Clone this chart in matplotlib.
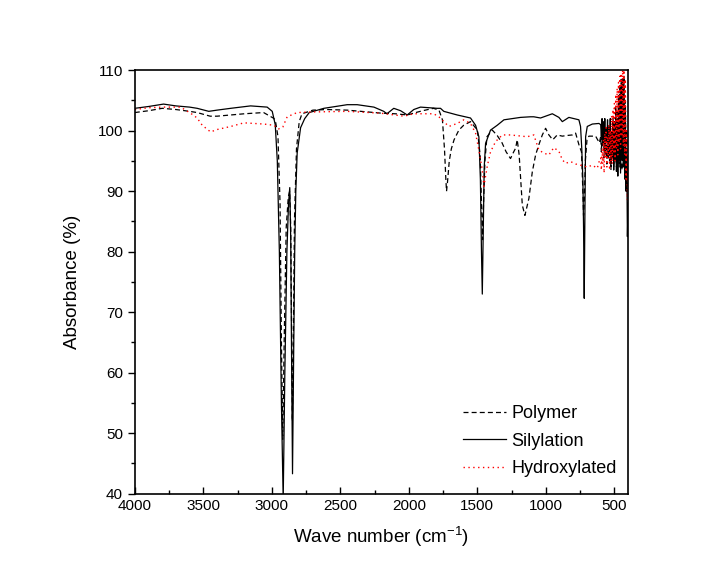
import numpy as np
import matplotlib
matplotlib.use('Agg')
import matplotlib.pyplot as plt

plt.rcParams['font.family'] = ['Liberation Sans', 'DejaVu Sans']
plt.rcParams['mathtext.fontset'] = 'custom'
plt.rcParams['mathtext.rm'] = 'Liberation Sans'

# Polymer (dashed)
wn_poly = [4000, 3900, 3800, 3700, 3600, 3545, 3450, 3400, 3300, 3200, 3060, 2990, 2975, 2955,
           2940, 2930, 2920, 2910, 2895, 2880, 2870, 2862, 2855, 2850, 2843, 2835, 2820, 2800,
           2780, 2700, 2600, 2450, 2300, 2200, 2100, 2010, 1950, 1900, 1820, 1780, 1755, 1740,
           1730, 1725, 1718, 1705, 1690, 1670, 1635, 1600, 1550, 1500, 1480, 1470, 1462, 1455,
           1445, 1430, 1391, 1355, 1320, 1290, 1258, 1235, 1221, 1209, 1195, 1172, 1153, 1124,
           1099, 1075, 1051, 1026, 1002, 978, 950, 917, 880, 850, 807, 783, 759, 740, 730, 725,
           720, 712, 700, 686, 637, 610,
           600, 595, 590, 585, 580, 575, 570, 565, 560, 555, 550, 545, 540, 535, 530, 525, 520,
           515, 510, 505, 500, 495, 490, 485, 480, 475, 470, 465, 460, 455, 450, 445, 440, 435,
           430, 425, 420, 415, 410, 405, 400]
ab_poly = [103.0, 103.3, 103.7, 103.5, 103.2, 103.0, 102.4, 102.4, 102.6, 102.8, 103.0, 102.1, 101.8, 99.0,
           88.0, 65.0, 49.0, 65.0, 84.0, 89.0, 90.0, 84.0, 65.0, 52.0, 65.0, 85.0, 97.0, 101.5,
           102.8, 103.4, 103.5, 103.4, 103.1, 102.9, 102.8, 102.6, 103.0, 103.3, 103.7, 103.4, 101.8, 97.0,
           92.0, 90.0, 91.5, 95.0, 97.0, 98.5, 100.1, 100.9, 101.5, 100.1, 96.0, 88.0, 82.0, 88.0,
           95.0, 99.0, 100.1, 99.2, 98.0, 96.5, 95.4, 96.5, 97.1, 98.5, 96.0, 87.7, 86.0, 88.8,
           93.2, 96.0, 97.7, 99.3, 100.4, 99.3, 98.5, 99.3, 99.1, 99.2, 99.3, 99.6, 97.7, 96.5, 90.0, 86.0,
           88.0, 95.0, 98.5, 99.1, 99.1, 98.0,
           99.0, 96.5, 100.0, 97.5, 99.5, 95.5, 98.5, 96.0, 100.5, 94.5, 99.0, 96.5, 101.0, 95.0, 98.0, 93.5, 100.0,
           95.5, 102.0, 94.0, 101.5, 96.0, 104.0, 93.0, 103.0, 95.5, 106.0, 94.0, 107.5, 96.0, 108.5, 93.5, 108.0, 95.0,
           109.0, 92.5, 105.0, 94.0, 100.0, 90.0, 93.0]

# Silylation (solid)
wn_sil = [4000, 3900, 3790, 3700, 3600, 3545, 3460, 3400, 3300, 3155, 3034, 2997, 2975, 2960,
          2945, 2930, 2917, 2905, 2890, 2878, 2869, 2862, 2855, 2849, 2842, 2833, 2825, 2815,
          2790, 2760, 2727, 2620, 2450, 2377, 2255, 2183, 2160, 2110, 2060, 2012, 1964, 1915,
          1793, 1769, 1745, 1647, 1550, 1513, 1489, 1478, 1470, 1464, 1458, 1450, 1440, 1404,
          1355, 1306, 1185, 1112, 1088, 1039, 953, 905, 880, 832, 759, 747, 738, 730, 725, 720,
          716, 710, 698, 661, 613,
          600, 595, 590, 585, 580, 575, 570, 565, 560, 555, 550, 545, 540, 535, 530, 525, 520,
          515, 510, 505, 500, 495, 490, 485, 480, 475, 470, 465, 460, 455, 450, 445, 440, 435,
          430, 425, 420, 415, 410, 405, 400]
ab_sil = [103.7, 104.0, 104.4, 104.1, 103.9, 103.7, 103.2, 103.4, 103.7, 104.1, 103.9, 103.2, 101.0, 95.0,
          80.0, 55.0, 39.0, 60.0, 80.0, 88.0, 90.6, 82.0, 60.0, 43.3, 60.0, 80.0, 90.0, 96.3,
          100.5, 102.0, 103.0, 103.7, 104.3, 104.3, 103.9, 103.2, 102.8, 103.7, 103.3, 102.6, 103.5, 103.9,
          103.7, 103.7, 103.2, 102.6, 102.1, 100.9, 99.0, 92.0, 80.0, 73.0, 82.0, 94.0, 97.9, 100.1,
          100.9, 101.8, 102.2, 102.3, 102.3, 102.1, 102.8, 102.2, 101.5, 102.2, 101.8, 100.7, 97.0, 92.0, 84.0, 72.3,
          84.0, 99.0, 100.7, 101.1, 101.2,
          101.0, 99.0, 102.0, 97.5, 101.5, 98.0, 102.0, 96.5, 100.5, 98.5, 101.8, 95.5, 100.0, 97.0, 102.0, 94.5, 99.5,
          96.0, 101.5, 93.5, 100.0, 95.0, 103.0, 94.0, 101.0, 92.5, 104.0, 95.0, 106.0, 93.0, 107.0, 95.5, 108.5, 94.0,
          106.5, 92.0, 104.0, 90.0, 96.0, 82.5, 88.0]

# Hydroxylated (red dotted)
wn_hyd = [4000, 3900, 3790, 3666, 3593, 3545, 3508, 3447, 3398, 3300, 3204, 3058, 2985, 2950,
          2920, 2888, 2815, 2700, 2450, 2207, 2036, 1964, 1818, 1769, 1745, 1708, 1647, 1599,
          1550, 1513, 1489, 1464, 1452, 1440, 1428, 1404, 1367, 1318, 1258, 1136, 1088, 1051,
          1015, 978, 942, 905, 880, 856, 820, 783, 747, 698, 661, 625, 610,
          600, 595, 590, 585, 580, 575, 570, 565, 560, 555, 550, 545, 540, 535, 530, 525, 520,
          515, 510, 505, 500, 495, 490, 485, 480, 475, 470, 465, 460, 455, 450, 445, 440, 435,
          430, 425, 420, 415, 410, 405, 400]
ab_hyd = [103.5, 103.8, 103.9, 103.9, 102.9, 102.1, 100.9, 99.8, 100.2, 100.7, 101.3, 101.1, 100.9, 100.3,
          100.6, 102.3, 103.0, 103.1, 103.2, 102.9, 102.4, 102.8, 102.8, 102.1, 101.5, 100.7, 101.2, 101.8,
          101.2, 99.6, 96.8, 93.5, 90.8, 92.5, 94.1, 96.5, 98.2, 99.3, 99.3, 99.0, 99.3, 96.8,
          96.3, 96.0, 97.2, 96.6, 95.2, 94.6, 94.9, 94.5, 94.3, 94.0, 94.3, 93.8, 95.0,
          95.5, 93.5, 97.0, 94.5, 98.5, 93.0, 99.5, 95.5, 100.5, 94.0, 99.0, 96.0, 101.0, 93.5, 100.0, 95.0, 102.5,
          94.5, 103.5, 96.5, 104.5, 95.0, 106.0, 97.0, 107.0, 96.0, 108.0, 98.0, 109.0, 97.0, 109.5, 99.0, 110.0, 97.5,
          110.0, 96.0, 108.5, 92.0, 100.0, 88.5, 96.0]

fig = plt.figure(figsize=(7.17, 5.85), dpi=100)
ax = fig.add_axes([0.188, 0.156, 0.688, 0.724])

ax.plot(wn_poly, ab_poly, color='black', ls=(0, (4, 2.5)), lw=0.9, label='Polymer')
ax.plot(wn_sil, ab_sil, color='black', ls='-', lw=0.9, label='Silylation')
ax.plot(wn_hyd, ab_hyd, color='red', ls=(0, (1, 2.5)), lw=1.0, label='Hydroxylated')

ax.set_xlim(4000, 400)
ax.set_ylim(40, 110)
ax.set_xticks(np.arange(4000, 400, -500))
ax.set_xticks(np.arange(3750, 400, -250), minor=True)
ax.set_yticks(np.arange(40, 111, 10))
ax.set_yticks(np.arange(45, 110, 10), minor=True)
ax.tick_params(axis='x', which='both', direction='in', top=False, labelsize=11)
ax.tick_params(axis='y', which='both', direction='out', right=False, labelsize=11)
ax.tick_params(which='major', length=5, width=1)
ax.tick_params(which='minor', length=3, width=1)
for s in ax.spines.values():
    s.set_linewidth(1.2)

ax.set_xlabel('Wave number (cm$^{-1}$)', fontsize=13.5, labelpad=8)
ax.set_ylabel('Absorbance (%)', fontsize=13.5, labelpad=12)

ax.legend(loc='lower right', frameon=False, fontsize=13, handlelength=2.4,
          handletextpad=0.3, labelspacing=0.6, bbox_to_anchor=(1.01, 0.0))

fig.savefig('out.png', dpi=100)
